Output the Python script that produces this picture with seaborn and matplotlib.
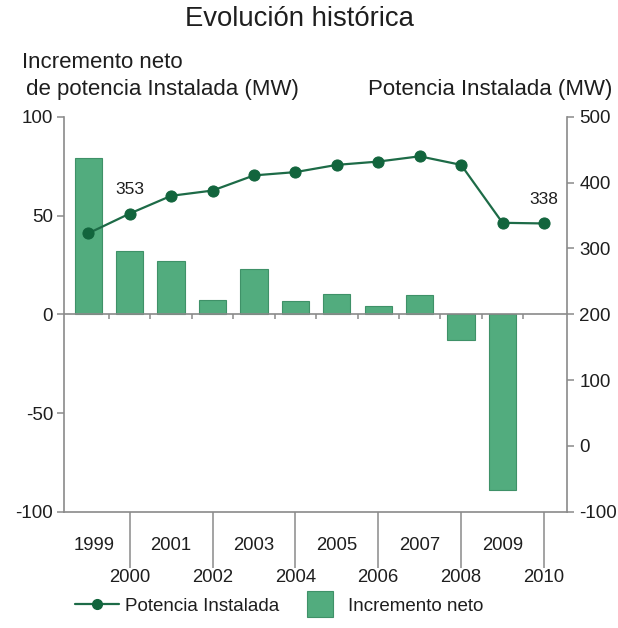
import numpy as np
import pandas as pd
import matplotlib
matplotlib.use('Agg')
import matplotlib.pyplot as plt
import matplotlib.transforms as mtransforms
from matplotlib.lines import Line2D
import seaborn as sns

years = [1999, 2000, 2001, 2002, 2003, 2004, 2005, 2006, 2007, 2008, 2009, 2010]
potencia = [323, 353, 380, 388, 411, 416, 427, 432, 440, 427, 339, 338]
bar_years = [1999, 2000, 2001, 2002, 2003, 2004, 2005, 2006, 2007, 2008, 2009]
incremento = [79, 32, 27, 7.5, 23, 6.5, 10.5, 4, 10, -13, -89]
labelled = {2000: '353', 2010: '338'}

BAR_COLOR = '#52ac7e'
BAR_EDGE = '#3f9168'
LINE_COLOR = '#1d6b47'
MARK_COLOR = '#12653d'
AXIS_GRAY = '#8a8a8a'
TEXT = '#1e1e1e'


def draw():
    sns.set_style('white')
    plt.rcParams['font.family'] = ['Liberation Sans', 'DejaVu Sans']
    plt.rcParams['axes.unicode_minus'] = False

    fig = plt.figure(figsize=(6.18, 6.28), dpi=100)
    ax = fig.add_axes([0.104, 0.185, 0.813, 0.629])

    order = [str(y) for y in years]
    df_bar = pd.DataFrame({'year': [str(y) for y in bar_years], 'inc': incremento})
    sns.barplot(data=df_bar, x='year', y='inc', order=order, color=BAR_COLOR,
                saturation=1, width=0.66, edgecolor=BAR_EDGE, linewidth=0.8, ax=ax)

    ax2 = ax.twinx()
    pos = np.arange(len(years))
    sns.lineplot(x=pos, y=potencia, ax=ax2, color=LINE_COLOR, linewidth=1.6,
                 marker='o', markersize=8, markerfacecolor=MARK_COLOR,
                 markeredgecolor=MARK_COLOR)
    for i, y in enumerate(years):
        if y in labelled:
            ax2.annotate(labelled[y], (pos[i], potencia[i]), xytext=(0, 17),
                         textcoords='offset points', ha='center', va='center',
                         fontsize=12.5, color=TEXT)

    ax.set_xlim(-0.58, 11.55)
    ax.set_ylim(-100, 100)
    ax.set_yticks([-100, -50, 0, 50, 100])
    ax2.set_ylim(-100, 500)
    ax2.set_yticks([-100, 0, 100, 200, 300, 400, 500])
    ax.set_xticks([])
    ax.set_xlabel('')
    ax.set_ylabel('')
    ax2.set_ylabel('')

    for a in (ax, ax2):
        for s in a.spines.values():
            s.set_color(AXIS_GRAY)
            s.set_linewidth(1.2)
        a.spines['top'].set_visible(False)
    ax.spines['right'].set_visible(False)
    ax2.spines['left'].set_visible(False)
    ax2.spines['bottom'].set_visible(False)

    ax.tick_params(axis='y', direction='out', length=5, width=1.1, color=AXIS_GRAY,
                   labelsize=13.5, labelcolor=TEXT, pad=3, left=True)
    ax2.tick_params(axis='y', direction='out', length=5, width=1.1, color=AXIS_GRAY,
                    labelsize=13.5, labelcolor=TEXT, pad=4, right=True)

    # zero line with small category ticks
    ax.axhline(0, color=AXIS_GRAY, linewidth=1.2, zorder=3)
    ax.vlines(np.arange(len(years) - 1) + 0.5, -2.6, 0, color=AXIS_GRAY,
              linewidth=1.1, zorder=3)

    # two-level year labels under the axis
    trans = mtransforms.blended_transform_factory(ax.transData, ax.transAxes)
    ax.vlines(pos[1::2], -0.142, 0, transform=trans, color=AXIS_GRAY,
              linewidth=1.1, clip_on=False)
    for i, y in enumerate(years):
        ypos = -0.084 if i % 2 == 0 else -0.167
        ax.text(pos[i] + (0.15 if i == 0 else 0), ypos, str(y), transform=trans,
                ha='center', va='center', fontsize=13.3, color=TEXT)

    fig.text(0.485, 0.97, 'Evolución histórica', ha='center', va='center',
             fontsize=19.8, color=TEXT)
    fig.text(0.035, 0.901, 'Incremento neto', ha='left', va='center',
             fontsize=16, color=TEXT)
    fig.text(0.032, 0.857, ' de potencia Instalada (MW)', ha='left', va='center',
             fontsize=16, color=TEXT)
    fig.text(0.991, 0.857, 'Potencia Instalada (MW)', ha='right', va='center',
             fontsize=16, color=TEXT)

    leg = ax2.get_legend()
    if leg is not None:
        leg.remove()
    handles = [
        Line2D([], [], color=LINE_COLOR, linewidth=1.6, marker='o', markersize=7,
               markerfacecolor=MARK_COLOR, markeredgecolor=MARK_COLOR),
        Line2D([], [], linestyle='none', marker='s', markersize=19,
               markerfacecolor=BAR_COLOR, markeredgecolor=BAR_EDGE, markeredgewidth=0.8),
    ]
    fig.legend(handles, ['Potencia Instalada', 'Incremento neto'], loc='center',
               bbox_to_anchor=(0.452, 0.035), ncol=2, frameon=False, fontsize=13.5,
               handlelength=2.3, handletextpad=0.35, columnspacing=1.0,
               labelcolor=TEXT)

    fig.savefig('out.png', dpi=100, facecolor='white')


if __name__ == '__main__':
    draw()
